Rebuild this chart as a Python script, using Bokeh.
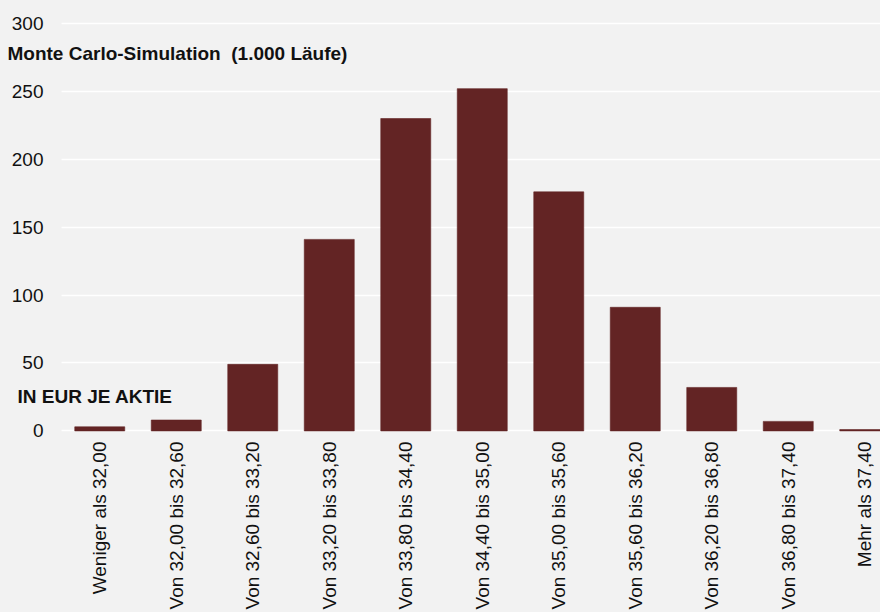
from math import pi
from bokeh.plotting import figure
from bokeh.models import (ColumnDataSource, Range1d, FixedTicker, Label,
                          LabelSet, BoxAnnotation)
from bokeh.core.properties import value
from bokeh.embed import file_html
from bokeh.resources import INLINE

# ---- data ----
categories = [
    "Weniger als 32,00",
    "Von 32,00 bis 32,60",
    "Von 32,60 bis 33,20",
    "Von 33,20 bis 33,80",
    "Von 33,80 bis 34,40",
    "Von 34,40 bis 35,00",
    "Von 35,00 bis 35,60",
    "Von 35,60 bis 36,20",
    "Von 36,20 bis 36,80",
    "Von 36,80 bis 37,40",
    "Mehr als 37,40",
]
counts = [3, 8, 49, 141, 230, 252, 176, 91, 32, 7, 1]
y_ticks = [0, 50, 100, 150, 200, 250, 300]
y_tick_labels = ["0", "50", "100", "150", "200", "250", "300"]
title_text = "Monte Carlo-Simulation\u00a0 (1.000 Läufe)"
unit_text = "IN EUR JE AKTIE"

FONT = "Liberation Sans"
BG = "#f2f2f2"
BAR = "#632424"
TXT = "#111111"

positions = list(range(len(categories)))
source = ColumnDataSource(dict(x=positions, top=counts, label=categories))

W, H = 880, 612
band = 76.5            # pixels per category
left_gap = 61          # pixels left of the first category band
x_start = -0.5 - left_gap / band
x_end = x_start + W / band

p = figure(
    width=W, height=H,
    output_backend="svg", toolbar_location=None,
    x_range=Range1d(x_start, x_end),
    y_range=Range1d(-5.6, 316.9),
    min_border_left=0, min_border_right=0,
    min_border_top=0, min_border_bottom=10,
    background_fill_color=BG, border_fill_color=BG,
    outline_line_color=None,
)

p.vbar(x="x", top="top", width=50 / band, source=source,
       fill_color=BAR, line_color=BAR, line_alpha=0.6)

# grid (horizontal white lines starting at the first category band)
p.xgrid.grid_line_color = None
g = p.ygrid[0]
g.grid_line_color = "white"
g.grid_line_width = 1.5
g.ticker = FixedTicker(ticks=y_ticks)
if "cross_bounds" in type(g).properties():
    g.cross_bounds = (-0.5, x_end)
else:
    p.add_layout(BoxAnnotation(right=-0.5, fill_color=BG, fill_alpha=1.0,
                               line_color=None, level="underlay"))

# y axis: value labels drawn inside the plot area, left of the first band
p.yaxis.visible = False
ysrc = ColumnDataSource(dict(x=[-0.5] * len(y_ticks), y=y_ticks, text=y_tick_labels))
p.add_layout(LabelSet(x="x", y="y", text="text", source=ysrc, x_offset=-18,
                      text_align="right", text_baseline="middle",
                      text_font=value(FONT), text_font_size=value("19px"),
                      text_color=value(TXT)))

# x axis
p.xaxis.ticker = FixedTicker(ticks=positions)
p.xaxis.major_label_overrides = {i: c for i, c in zip(positions, categories)}
p.xaxis.major_label_orientation = pi / 2
p.xaxis.axis_line_color = None
p.xaxis.major_tick_line_color = None
p.xaxis.minor_tick_line_color = None
p.xaxis.major_tick_out = 0
p.xaxis.major_tick_in = 0
p.xaxis.major_label_standoff = 3
p.xaxis.major_label_text_font = FONT
p.xaxis.major_label_text_font_size = "19px"
p.xaxis.major_label_text_color = TXT

# annotations
p.add_layout(Label(x=-0.5, y=278, x_offset=-54, text=title_text,
                   text_font=FONT, text_font_size="19px", text_font_style="bold",
                   text_color=TXT, text_baseline="middle"))
p.add_layout(Label(x=-0.5, y=25, x_offset=-44, text=unit_text,
                   text_font=FONT, text_font_size="19px", text_font_style="bold",
                   text_color=TXT, text_baseline="middle"))

html = file_html(p, INLINE)
html = html.replace("</head>", "<style>html,body{background:%s;}</style></head>" % BG, 1)
open("out.html", "w").write(html)
